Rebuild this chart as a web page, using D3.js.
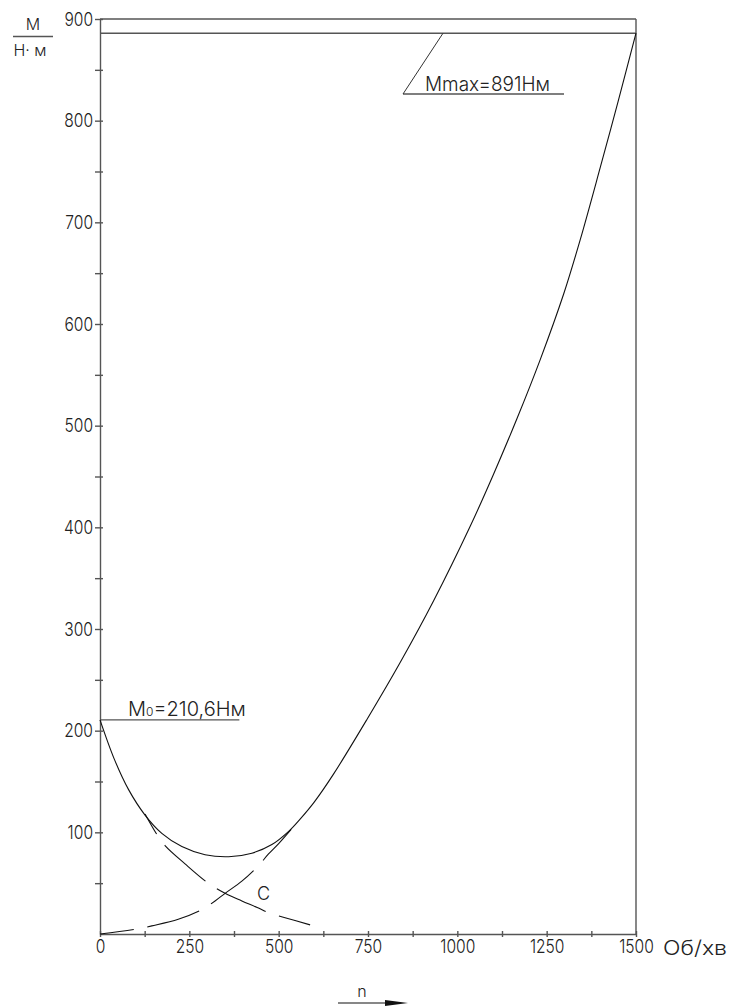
<!DOCTYPE html>
<html>
<head>
<meta charset="utf-8">
<script src="https://cdn.jsdelivr.net/npm/d3@7"></script>
<style>
  body { margin: 0; background: #fff; }
  text { font-family: Inter, "DejaVu Sans", sans-serif; font-weight: 300; fill: #222; }
  .axis path, .axis line { stroke: #555; stroke-width: 1.4; }
  .axis text { font-size: 19px; font-family: Inter, "DejaVu Sans", sans-serif; }
</style>
</head>
<body>
<div class="chart"></div>
<script>
// tick values
var xMajor = [0, 250, 500, 750, 1000, 1250, 1500];
var xMinor = [125, 375, 625, 875, 1125, 1375];
var yMajor = [100, 200, 300, 400, 500, 600, 700, 800, 900];
var yMinor = [50, 150, 250, 350, 450, 550, 650, 750, 850];

// resulting torque curve (solid)
var resN = [0, 40, 80, 126, 173, 229, 294, 360, 425, 481, 528, 560, 600, 653, 747, 840, 934, 1036, 1101, 1167, 1232, 1298, 1344, 1400, 1450, 1500];
var resM = [210.6, 172, 142, 117, 99, 86, 78, 76, 79.5, 88, 101, 113, 130, 157, 211, 267, 328, 401, 452, 507, 565, 630, 683, 754, 819, 886];

// rising component (dashed)
var riseN = [0, 105, 145, 219, 285, 322, 350, 397, 443, 471, 500, 535];
var riseM = [0, 5, 8, 14.5, 24, 32.5, 40, 52, 67, 78.5, 89, 103];

// falling component (dashed)
var fallN = [126, 159, 182, 238, 303, 350, 397, 440, 471, 518, 588];
var fallM = [118, 98, 87, 69, 50, 40, 32.5, 26, 21, 16, 9];

var m0 = 210.6;
var mMaxLine = 886;

var svgWidth = 732, svgHeight = 1007;
var svg = d3.select(".chart").append("svg")
    .attr("width", svgWidth)
    .attr("height", svgHeight);

var x = d3.scaleLinear().domain([0, 1500]).range([100, 636]);
var y = d3.scaleLinear().domain([0, 900]).range([934, 19]);

// squeeze a label to a narrower width (the drawing font is narrow)
function squeeze(sel, k) {
  sel.each(function() {
    var w = this.getComputedTextLength();
    if (w > 0) d3.select(this).attr("textLength", w * k).attr("lengthAdjust", "spacingAndGlyphs");
  });
}

// x axis
var xAxis = svg.append("g")
    .attr("class", "axis")
    .attr("transform", "translate(0," + y(0) + ")")
    .call(d3.axisBottom(x)
        .tickValues(xMajor.concat(xMinor))
        .tickSizeOuter(0)
        .tickFormat(function(d) { return xMajor.indexOf(d) >= 0 ? d : ""; }));
xAxis.selectAll(".tick line").attr("y1", -3).attr("y2", 3);
xAxis.selectAll(".tick text").attr("y", 6).attr("dy", "0.71em").attr("fill", "#222");

// y axis
var yAxis = svg.append("g")
    .attr("class", "axis")
    .attr("transform", "translate(" + x(0) + ",0)")
    .call(d3.axisLeft(y)
        .tickValues(yMajor.concat(yMinor))
        .tickSizeOuter(0)
        .tickFormat(function(d) { return yMajor.indexOf(d) >= 0 ? d : ""; }));
yAxis.selectAll(".tick line").attr("x1", -5).attr("x2", 3);
yAxis.selectAll(".tick text").attr("x", -7).attr("fill", "#222");

squeeze(xAxis.selectAll(".tick text"), 0.82);
squeeze(yAxis.selectAll(".tick text"), 0.82);

// frame: top and right, plus Mmax and M0 lines
var frame = svg.append("g").attr("stroke", "#555").attr("stroke-width", 1.4).attr("fill", "none");
frame.append("line").attr("x1", x(0)).attr("x2", x(1500)).attr("y1", y(900)).attr("y2", y(900));
frame.append("line").attr("x1", x(1500)).attr("x2", x(1500)).attr("y1", y(900)).attr("y2", y(0));
frame.append("line").attr("x1", x(0)).attr("x2", x(1500)).attr("y1", y(mMaxLine)).attr("y2", y(mMaxLine));
frame.append("line").attr("x1", x(0)).attr("x2", x(390)).attr("y1", y(m0)).attr("y2", y(m0));

var line = d3.line()
    .x(function(d) { return x(d[0]); })
    .y(function(d) { return y(d[1]); })
    .curve(d3.curveCatmullRom);

function pairs(a, b) { return a.map(function(v, i) { return [v, b[i]]; }); }

svg.append("path")
    .datum(pairs(resN, resM))
    .attr("d", line)
    .attr("fill", "none").attr("stroke", "#111").attr("stroke-width", 1.1);

svg.append("path")
    .datum(pairs(riseN, riseM))
    .attr("d", line)
    .attr("fill", "none").attr("stroke", "#111").attr("stroke-width", 1.1)
    .attr("stroke-dasharray", "54,14").attr("stroke-dashoffset", 20);

svg.append("path")
    .datum(pairs(fallN, fallM))
    .attr("d", line)
    .attr("fill", "none").attr("stroke", "#111").attr("stroke-width", 1.1)
    .attr("stroke-dasharray", "54,14").attr("stroke-dashoffset", 31);

// Mmax label with leader
var lab = svg.append("g");
lab.append("line").attr("x1", 403).attr("y1", 94).attr("x2", 564).attr("y2", 94)
    .attr("stroke", "#555").attr("stroke-width", 1.4);
lab.append("line").attr("x1", 403).attr("y1", 94).attr("x2", 443).attr("y2", y(mMaxLine))
    .attr("stroke", "#333").attr("stroke-width", 1);
lab.append("text").attr("x", 425).attr("y", 91).attr("font-size", 20)
    .attr("textLength", 125).attr("lengthAdjust", "spacingAndGlyphs")
    .text("Mmax=891Нм");

// M0 label
var m0Label = svg.append("text").attr("x", 128).attr("y", y(m0) - 4).attr("font-size", 20);
m0Label.append("tspan").text("M");
m0Label.append("tspan").attr("font-size", 12).text("0");
m0Label.append("tspan").text("=210,6Нм");

// point C
svg.append("text").attr("x", 257).attr("y", 900).attr("font-size", 18).text("C");

// axis units
svg.append("text").attr("x", 663).attr("y", 955).attr("font-size", 20)
    .attr("textLength", 64).attr("lengthAdjust", "spacingAndGlyphs")
    .text("Об/хв");

var yTitle = svg.append("g");
yTitle.append("text").attr("x", 33).attr("y", 30).attr("text-anchor", "middle").attr("font-size", 16).text("M");
yTitle.append("line").attr("x1", 13).attr("x2", 53).attr("y1", 36.5).attr("y2", 36.5)
    .attr("stroke", "#555").attr("stroke-width", 1.4);
yTitle.append("text").attr("x", 30).attr("y", 56).attr("text-anchor", "middle").attr("font-size", 16).text("Н· м");

// n direction arrow
svg.append("text").attr("x", 362).attr("y", 997).attr("text-anchor", "middle").attr("font-size", 16).text("n");
svg.append("line").attr("x1", 338).attr("x2", 388).attr("y1", 1003).attr("y2", 1003)
    .attr("stroke", "#111").attr("stroke-width", 1.2);
svg.append("path").attr("d", "M385,1000 L408,1003 L385,1006 Z").attr("fill", "#111");
</script>
</body>
</html>
